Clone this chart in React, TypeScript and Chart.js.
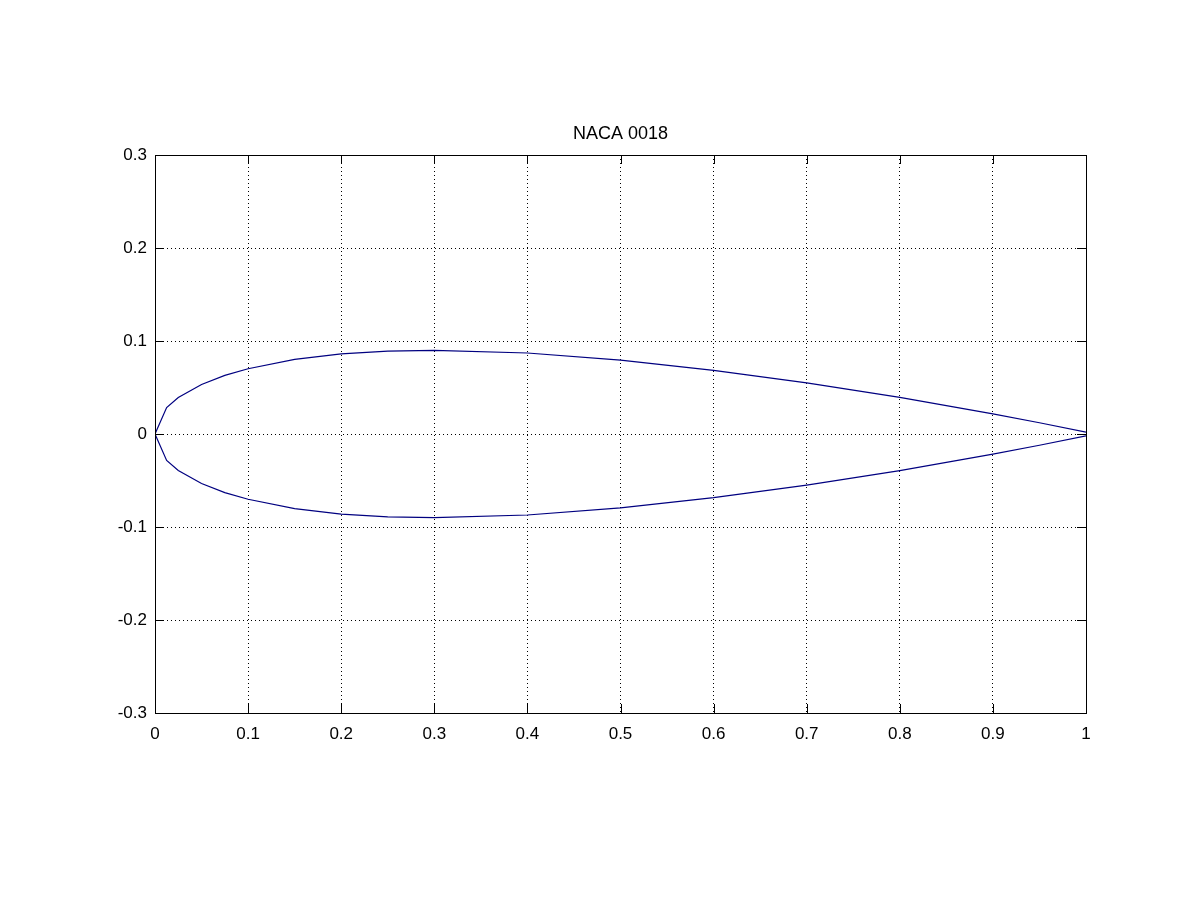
import React, { useEffect, useRef } from "react";
import { Chart, registerables } from "chart.js";

Chart.register(...registerables);

const stations = [0, 0.0125, 0.025, 0.05, 0.075, 0.1, 0.15, 0.2, 0.25, 0.3, 0.4, 0.5, 0.6, 0.7, 0.8, 0.9, 0.95, 1.0];
const upper = [0, 0.0284, 0.0392, 0.0533, 0.063, 0.0702, 0.0802, 0.0861, 0.0891, 0.09, 0.0871, 0.0794, 0.0685, 0.055, 0.0394, 0.0217, 0.0121, 0.0019];
const lower = upper.map((v) => -v);
const xTicks = [0, 0.1, 0.2, 0.3, 0.4, 0.5, 0.6, 0.7, 0.8, 0.9, 1];
const yTicks = [-0.3, -0.2, -0.1, 0, 0.1, 0.2, 0.3];
const xTickLabels = ["0", "0.1", "0.2", "0.3", "0.4", "0.5", "0.6", "0.7", "0.8", "0.9", "1"];
const yTickLabels = ["-0.3", "-0.2", "-0.1", "0", "0.1", "0.2", "0.3"];
const titleText = "NACA 0018";

const FONT = "'Liberation Sans', Arial, Helvetica, sans-serif";

const framePlugin = {
  id: "matlabFrame",
  afterDraw(chart: any) {
    const { ctx, chartArea } = chart;
    const { left, right, top, bottom } = chartArea;
    const xs = chart.scales.x;
    const ys = chart.scales.y;
    const L = 9;
    ctx.save();
    ctx.strokeStyle = "#000";
    ctx.lineWidth = 1;
    ctx.setLineDash([]);
    ctx.beginPath();
    for (const v of xTicks) {
      const px = Math.round(xs.getPixelForValue(v)) + 0.5;
      ctx.moveTo(px, bottom);
      ctx.lineTo(px, bottom - L);
      ctx.moveTo(px, top);
      ctx.lineTo(px, top + L);
    }
    for (const v of yTicks) {
      const py = Math.round(ys.getPixelForValue(v)) + 0.5;
      ctx.moveTo(left, py);
      ctx.lineTo(left + L, py);
      ctx.moveTo(right, py);
      ctx.lineTo(right - L, py);
    }
    ctx.stroke();
    ctx.strokeRect(Math.round(left) + 0.5, Math.round(top) + 0.5, Math.round(right - left), Math.round(bottom - top));
    ctx.restore();
  },
};

export default function App() {
  const ref = useRef<HTMLCanvasElement | null>(null);
  useEffect(() => {
    if (!ref.current) return;
    const pts = [
      ...stations.map((x, i) => ({ x, y: upper[i] })).reverse(),
      ...stations.map((x, i) => ({ x, y: lower[i] })).slice(1),
    ];
    const chart = new Chart(ref.current, {
      type: "scatter",
      data: {
        datasets: [
          {
            data: pts,
            showLine: true,
            borderColor: "#000080",
            borderWidth: 1.2,
            pointRadius: 0,
            fill: false,
            tension: 0,
          },
        ],
      },
      options: {
        animation: false,
        responsive: false,
        maintainAspectRatio: false,
        layout: { padding: { top: 0, right: 114, bottom: 0, left: 0 } },
        plugins: {
          legend: { display: false },
          tooltip: { enabled: false },
          title: {
            display: true,
            fullSize: false,
            text: titleText,
            color: "#000",
            font: { family: FONT, size: 18, weight: "normal" },
            padding: { top: 123, bottom: 10.4 },
          },
        },
        scales: {
          x: {
            type: "linear",
            min: 0,
            max: 1,
            afterFit: (s: any) => {
              s.height = 187;
            },
            afterBuildTicks: (s: any) => {
              s.ticks = xTicks.map((v) => ({ value: v }));
            },
            ticks: {
              color: "#000",
              font: { family: FONT, size: 17 },
              padding: 11,
              maxRotation: 0,
              autoSkip: false,
              callback: (v: any) => {
                const i = xTicks.findIndex((t) => Math.abs(t - Number(v)) < 1e-9);
                return i >= 0 ? xTickLabels[i] : "";
              },
            },
            grid: { display: true, color: "#000", lineWidth: 1, drawTicks: false },
            border: { display: false, dash: [1, 3] },
          },
          y: {
            type: "linear",
            min: -0.3,
            max: 0.3,
            afterFit: (s: any) => {
              s.width = 155;
            },
            afterBuildTicks: (s: any) => {
              s.ticks = yTicks.map((v) => ({ value: v }));
            },
            ticks: {
              color: "#000",
              font: { family: FONT, size: 17 },
              padding: 8,
              autoSkip: false,
              callback: (v: any) => {
                const i = yTicks.findIndex((t) => Math.abs(t - Number(v)) < 1e-9);
                return i >= 0 ? yTickLabels[i] : "";
              },
            },
            grid: { display: true, color: "#000", lineWidth: 1, drawTicks: false },
            border: { display: false, dash: [1, 3] },
          },
        },
      },
      plugins: [framePlugin],
    });
    return () => chart.destroy();
  }, []);
  return (
    <div style={{ position: "absolute", left: 0, top: 0, width: 1200, height: 900, background: "#fff" }}>
      <canvas ref={ref} width={1200} height={900} style={{ width: 1200, height: 900 }} />
    </div>
  );
}
